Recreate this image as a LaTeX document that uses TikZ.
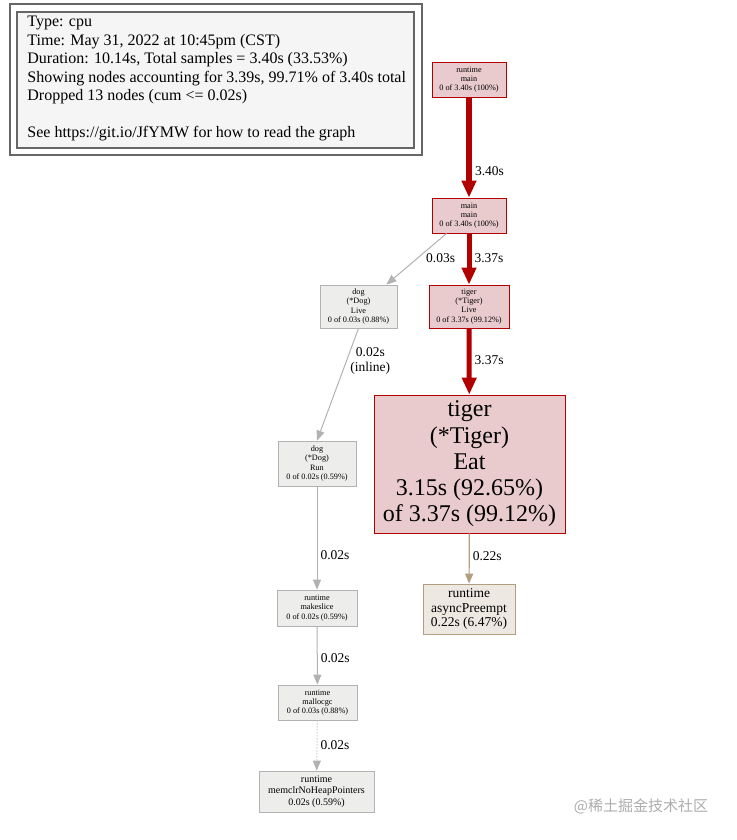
\documentclass[tikz,border=0pt]{standalone}
\usepackage{fontspec}
\setmainfont{Liberation Serif}
\newfontfamily\cjkfont{Noto Sans CJK SC}
\usetikzlibrary{arrows.meta}

\definecolor{hotred}{HTML}{B20000}
\definecolor{hotfill}{HTML}{E9CBCD}
\definecolor{coldgray}{HTML}{B2B2B2}
\definecolor{coldfill}{HTML}{EDEDEC}
\definecolor{warmtan}{HTML}{B29F80}
\definecolor{warmfill}{HTML}{EDE8E1}
\definecolor{legendgray}{HTML}{666666}

\begin{document}
\begin{tikzpicture}[x=1pt, y=-1pt, line width=0.8pt,
  tinytext/.style={font=\fontsize{8.2}{9.3}\selectfont},
  hotnode/.style={draw=hotred, fill=hotfill, align=center, inner sep=0pt},
  coldnode/.style={draw=coldgray, fill=coldfill, align=center, inner sep=0pt},
  warmnode/.style={draw=warmtan, fill=warmfill, align=center, inner sep=0pt},
  hotedge/.style={draw=hotred, -{Triangle[length=17pt,width=14pt]}},
  coldedge/.style={draw=coldgray, line width=1pt, -{Triangle[length=10pt,width=8pt]}},
  warmedge/.style={draw=warmtan, line width=1.2pt, -{Triangle[length=10pt,width=8pt]}},
  elabel/.style={anchor=west, inner sep=0pt, font=\fontsize{13.5}{15}\selectfont}]
  \fill[white] (0,0) rectangle (736,840);
  \useasboundingbox (0,0) rectangle (736,840);
  % legend
  \draw[legendgray, line width=1.6pt] (10,4) rectangle (422,155);
  \draw[legendgray, line width=1.6pt, fill=white!96!black] (17,12) rectangle (414,148);
  \node[anchor=north west, align=left, inner sep=0pt, font=\fontsize{16}{18.5}\selectfont] (legend) at (27,16) {Type: cpu\\
    Time: May 31, 2022 at 10:45pm (CST)\\
    Duration: 10.14s, Total samples = 3.40s (33.53\%)\\
    Showing nodes accounting for 3.39s, 99.71\% of 3.40s total\\
    Dropped 13 nodes (cum <= 0.02s)\\[18.5pt]
    See https://git.io/JfYMW for how to read the graph};
  % hot path
  \node[hotnode, tinytext, minimum width=74, minimum height=35] (rtmain) at (469,79.5) {runtime\\main\\0 of 3.40s (100\%)};
  \node[hotnode, tinytext, minimum width=74, minimum height=35] (mainmain) at (469,215.5) {main\\main\\0 of 3.40s (100\%)};
  \node[hotnode, tinytext, minimum width=80, minimum height=43] (tigerlive) at (469,306.5) {tiger\\(*Tiger)\\Live\\0 of 3.37s (99.12\%)};
  \node[hotnode, minimum width=191, minimum height=138, font=\fontsize{24}{26.3}\selectfont] (tigereat) at (469.5,464) {tiger\\(*Tiger)\\Eat\\3.15s (92.65\%)\\of 3.37s (99.12\%)};
  \node[warmnode, minimum width=92, minimum height=50, font=\fontsize{13.5}{14.3}\selectfont] (preempt) at (469,609) {runtime\\asyncPreempt\\0.22s (6.47\%)};
  % dog path
  \node[coldnode, tinytext, minimum width=77, minimum height=43] (doglive) at (358.5,306.5) {dog\\(*Dog)\\Live\\0 of 0.03s (0.88\%)};
  \node[coldnode, tinytext, minimum width=78, minimum height=45] (dogrun) at (317,463.5) {dog\\(*Dog)\\Run\\0 of 0.02s (0.59\%)};
  \node[coldnode, tinytext, minimum width=80, minimum height=36] (makeslice) at (317,608) {runtime\\makeslice\\0 of 0.02s (0.59\%)};
  \node[coldnode, tinytext, minimum width=79, minimum height=35] (mallocgc) at (317.5,702.5) {runtime\\mallocgc\\0 of 0.03s (0.88\%)};
  \node[coldnode, minimum width=115, minimum height=41, font=\fontsize{10}{11.5}\selectfont] (memclr) at (316.5,791.5) {runtime\\memclrNoHeapPointers\\0.02s (0.59\%)};
  % edges
  \draw[hotedge, line width=6pt] (rtmain) -- (mainmain) node[elabel, pos=0.74, xshift=3pt] {3.40s};
  \draw[hotedge, line width=5pt] (mainmain) -- (tigerlive) node[elabel, pos=0.48, xshift=3pt] {3.37s};
  \draw[hotedge, line width=5pt] (tigerlive) -- (tigereat) node[elabel, pos=0.48, xshift=3pt] {3.37s};
  \draw[warmedge] (tigereat) -- (preempt) node[elabel, pos=0.45, xshift=3pt] {0.22s};
  \draw[coldedge] ([xshift=15pt]mainmain.south west) -- ([xshift=-11pt]doglive.north east) node[elabel, pos=0.48, xshift=8pt] {0.03s};
  \draw[coldedge] (doglive.south) -- (dogrun.north) node[elabel, align=center, pos=0.29, xshift=3.5pt] {0.02s\\(inline)};
  \draw[coldedge] (dogrun) -- (makeslice) node[elabel, pos=0.67, xshift=3pt] {0.02s};
  \draw[coldedge] (makeslice) -- (mallocgc) node[elabel, pos=0.54, xshift=3pt] {0.02s};
  \draw[coldedge, dotted] (mallocgc) -- (memclr) node[elabel, pos=0.49, xshift=3pt] {0.02s};
  % watermark
  \node[text=black!32, font=\cjkfont\fontsize{15}{17}\selectfont] (mark) at (641,806) {@稀土掘金技术社区};
\end{tikzpicture}
\end{document}
